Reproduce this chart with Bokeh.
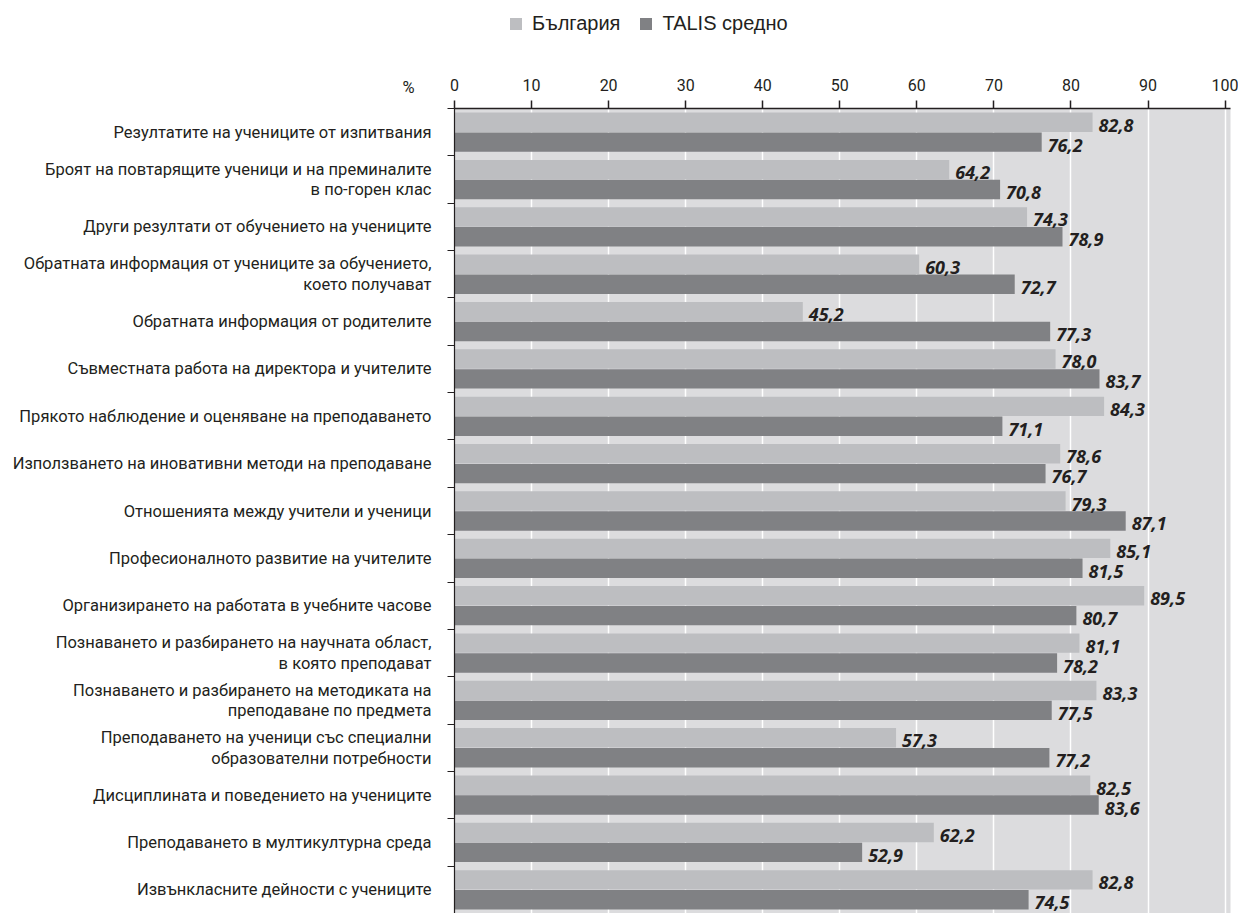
from bokeh.plotting import figure
from bokeh.layouts import column
from bokeh.models import (ColumnDataSource, Range1d, LinearAxis, FixedTicker,
                          Legend, LegendItem)
from bokeh.core.properties import value
from bokeh.embed import file_html
from bokeh.resources import INLINE

categories = [
    "Резултатите на учениците от изпитвания",
    "Броят на повтарящите ученици и на преминалите\nв по-горен клас",
    "Други резултати от обучението на учениците",
    "Обратната информация от учениците за обучението,\nкоето получават",
    "Обратната информация от родителите",
    "Съвместната работа на директора и учителите",
    "Прякото наблюдение и оценяване на преподаването",
    "Използването на иновативни методи на преподаване",
    "Отношенията между учители и ученици",
    "Професионалното развитие на учителите",
    "Организирането на работата в учебните часове",
    "Познаването и разбирането на научната област,\nв която преподават",
    "Познаването и разбирането на методиката на\nпреподаване по предмета",
    "Преподаването на ученици със специални\nобразователни потребности",
    "Дисциплината и поведението на учениците",
    "Преподаването в мултикултурна среда",
    "Извънкласните дейности с учениците",
]
bulgaria = [82.8, 64.2, 74.3, 60.3, 45.2, 78.0, 84.3, 78.6, 79.3, 85.1, 89.5, 81.1, 83.3, 57.3, 82.5, 62.2, 82.8]
talis = [76.2, 70.8, 78.9, 72.7, 77.3, 83.7, 71.1, 76.7, 87.1, 81.5, 80.7, 78.2, 77.5, 77.2, 83.6, 52.9, 74.5]
series_names = ["България", "TALIS средно"]
x_ticks = [0, 10, 20, 30, 40, 50, 60, 70, 80, 90, 100]
unit_label = "%"

def fmt(v):
    return f"{v:.1f}".replace(".", ",")

N = len(categories)
centers = [N - i - 0.5 for i in range(N)]
OFF = 0.21
src = ColumnDataSource(dict(
    y_bg=[c + OFF for c in centers], y_ta=[c - OFF for c in centers],
    bg=bulgaria, ta=talis,
    bg_lbl=[fmt(v) for v in bulgaria], ta_lbl=[fmt(v) for v in talis],
))

LIGHT = "#bdbec1"
DARK = "#808184"
BG = "#dcdcde"
TXT = "#231f20"
LBL_FONT = "Roboto"

W, H = 1238, 913
LEG_H = 60

# ---- legend strip (its frame is aligned with the chart's frame by the column layout) ----
lf = figure(width=W, height=LEG_H, output_backend="svg", toolbar_location=None,
            x_range=Range1d(0, 1), y_range=Range1d(0, 1),
            x_axis_location=None, y_axis_location=None, min_border=0)
lf.outline_line_color = None
lf.grid.visible = False
# swatch-only renderers: one zero-length bar each, lying outside the visible range
lr1 = lf.hbar(y=[-5], right=[0], left=0, height=0.5, fill_color=LIGHT, line_color=None)
lr2 = lf.hbar(y=[-5], right=[0], left=0, height=0.5, fill_color=DARK, line_color=None)
legend = Legend(items=[LegendItem(label=series_names[0], renderers=[lr1]),
                       LegendItem(label=series_names[1], renderers=[lr2])],
                orientation="horizontal", location=(54, 25),
                glyph_width=15, glyph_height=15, label_standoff=9, spacing=18,
                label_text_font="Liberation Sans", label_text_font_size="20px",
                label_text_color=TXT, padding=0, margin=0,
                background_fill_alpha=0, border_line_color=None)
lf.add_layout(legend, "center")

# ---- main chart ----
p = figure(width=W, height=H - LEG_H, output_backend="svg", toolbar_location=None,
           y_range=Range1d(0, N), x_range=Range1d(0, 100.7),
           x_axis_location="above", y_axis_location=None,
           min_border_left=454, min_border_right=8, min_border_top=108 - LEG_H, min_border_bottom=0)
p.outline_line_color = None
p.background_fill_color = BG
p.border_fill_color = "white"
p.ygrid.grid_line_color = None
p.xgrid.grid_line_color = "white"
p.xgrid.grid_line_width = 1.5
p.xgrid.ticker = FixedTicker(ticks=x_ticks)

xa = p.xaxis[0]
xa.ticker = FixedTicker(ticks=x_ticks)
xa.major_tick_out = 8
xa.major_tick_in = 0
xa.minor_tick_line_color = None
xa.axis_line_color = TXT
xa.axis_line_width = 1.5
xa.major_tick_line_color = TXT
xa.major_tick_line_width = 1.5
xa.major_label_text_font = LBL_FONT
xa.major_label_text_font_size = "16px"
xa.major_label_text_color = TXT
xa.major_label_standoff = 10

# left axis: labels at row centres, short ticks at row boundaries, "%" at the top
overrides = {c: lbl for c, lbl in zip(centers, categories)}
overrides[N] = unit_label + "\u2003\n\u00a0\n\u00a0"
ya = LinearAxis(ticker=FixedTicker(ticks=centers + [N], minor_ticks=list(range(N + 1))),
                major_label_overrides=overrides,
                axis_line_color=TXT, axis_line_width=1.2,
                major_tick_line_color=None, major_tick_out=0, major_tick_in=0,
                minor_tick_line_color=TXT, minor_tick_out=7, minor_tick_in=0,
                major_label_text_font=LBL_FONT, major_label_text_font_size="16.5px",
                major_label_text_color=TXT, major_label_standoff=16,
                major_label_text_align="right", major_label_text_line_height=1.08)
p.add_layout(ya, "left")

r1 = p.hbar(y="y_bg", right="bg", left=0, height=0.41, source=src, fill_color=LIGHT, line_color=None)
r2 = p.hbar(y="y_ta", right="ta", left=0, height=0.41, source=src, fill_color=DARK, line_color=None)

common = dict(text_font=value("Open Sans"), text_font_size="18px", text_font_style="bold italic",
              text_color=TXT, text_baseline="middle", text_align="left", x_offset=6, y_offset=3)
p.text(x="bg", y="y_bg", text="bg_lbl", source=src, **common)
p.text(x="ta", y="y_ta", text="ta_lbl", source=src, **common)

layout = column(lf, p, spacing=0)
open("out.html", "w").write(file_html(layout, INLINE))
